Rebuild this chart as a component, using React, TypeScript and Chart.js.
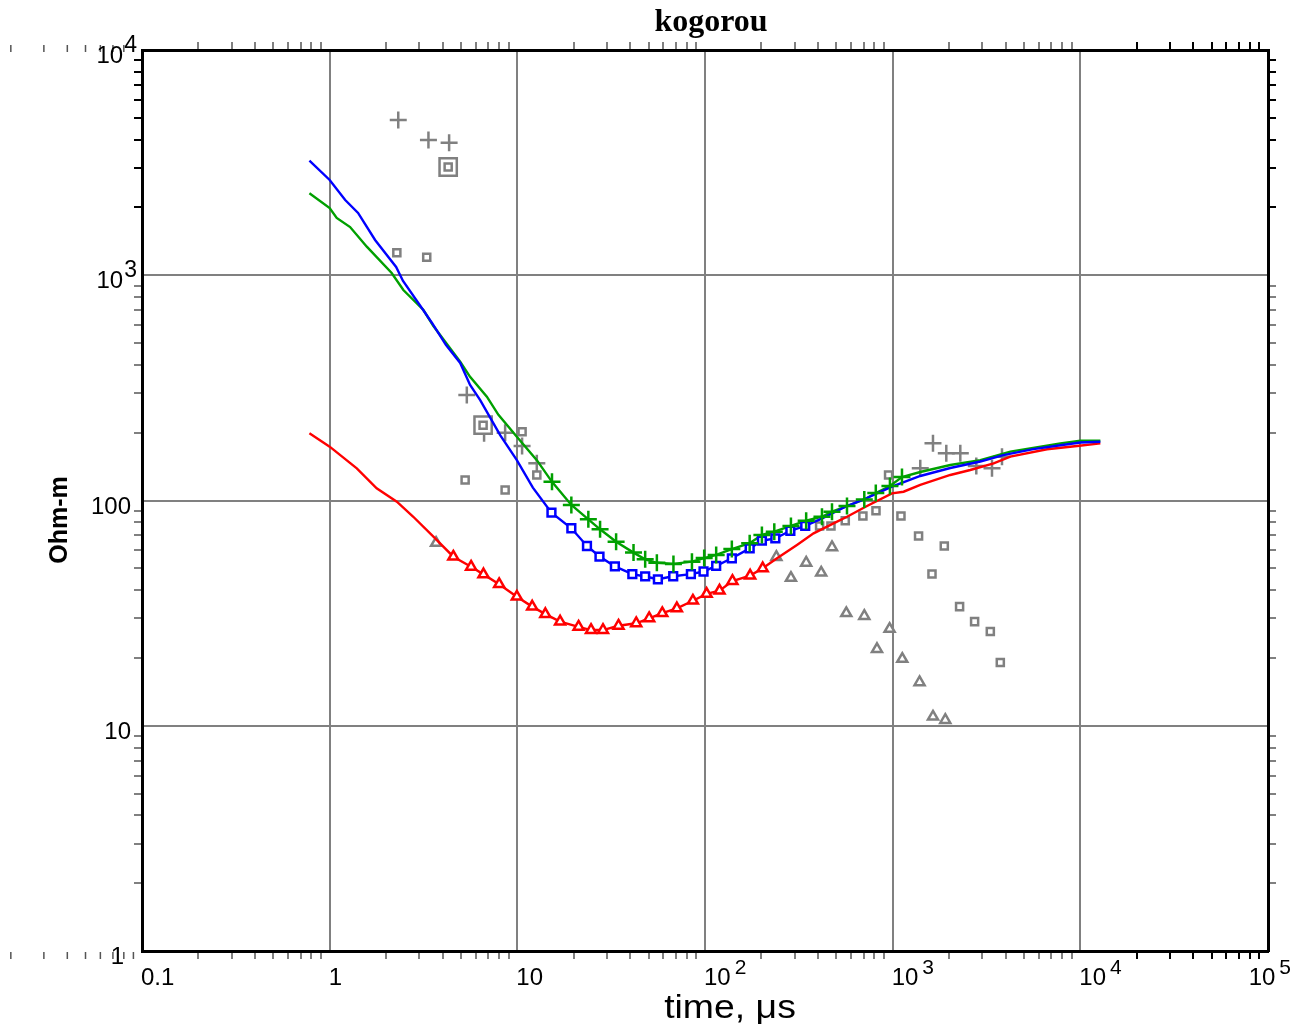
import React, { useEffect, useRef } from "react";
import { Chart, registerables } from "chart.js";

Chart.register(...registerables);

type Pt = [number, number];

const chartTitle = "kogorou";
const xAxisTitle = "time, μs";
const yAxisTitle = "Ohm-m";

const xMin = 0.1;
const xMax = 100000;
const yMin = 1;
const yMax = 10000;

const xTickValues = [0.1, 1, 10, 100, 1000, 10000, 100000];
const xTickBase = ["0.1", "1", "10", "10", "10", "10", "10"];
const xTickExp = ["", "", "", "2", "3", "4", "5"];
const yTickValues = [1, 10, 100, 1000, 10000];
const yTickBase = ["1", "10", "100", "10", "10"];
const yTickExp = ["", "", "", "3", "4"];
const strayTickValues = [0.02, 0.03, 0.04, 0.05, 0.06, 0.07, 0.08, 0.09];

// Blue model curve and blue squares
const blueLineHead: Pt[] = [
  [0.78, 3226], [1.0, 2648], [1.21, 2158], [1.417, 1890], [1.746, 1434], [2.26, 1088],
  [2.46, 943], [3.15, 701], [3.51, 614], [4.17, 490], [4.96, 408], [5.6, 326],
  [6.34, 279], [8.1, 195], [9.94, 151], [12.1, 114],
];
const blueSquares: Pt[] = [
  [15.2, 88.3], [19.4, 75.3], [23.5, 62.8], [27.4, 56.4], [33.1, 51.0], [41.0, 47.1],
  [48.0, 46.0], [56.1, 44.7], [67.7, 46.1], [84.1, 47.1], [98.2, 48.4], [114.7, 51.3],
  [139, 55.4], [173, 61.3], [201, 66.3], [237, 67.9], [285, 73.4], [342, 77.1],
];
const blueLineTail: Pt[] = [
  [416, 82.8], [571, 94.5], [730, 102.6], [991, 115.2], [1403, 128.5], [2028, 139.4],
  [2931, 149], [3887, 159], [5616, 169], [7823, 176], [10000, 181], [12786, 182.4],
];

// Green model curve and green crosses
const greenLineHead: Pt[] = [
  [0.78, 2311], [1.0, 1989], [1.09, 1796], [1.285, 1637], [1.577, 1339], [2.14, 1023],
  [2.47, 860], [3.16, 701], [3.57, 595], [4.96, 413], [5.6, 354], [6.88, 289],
  [7.93, 240], [9.94, 192], [12.7, 151],
];
const greenCrosses: Pt[] = [
  [15.3, 121], [19.4, 95.5], [23.9, 82.5], [27.6, 74.5], [33.6, 65.6], [41.6, 58.7],
  [48.0, 54.8], [55.4, 52.9], [67.9, 52.3], [85.2, 53.5], [99, 55.5], [114.7, 57.3],
  [139, 60.9], [173, 64.6], [201, 70.3], [234, 72.7], [287, 77.1], [346, 81.3],
  [420, 84.7], [475, 89.2], [571, 94.5], [706, 101], [813, 108], [967, 116], [1121, 127],
];
const greenLineTail: Pt[] = [
  [1403, 133.8], [2028, 143.8], [2931, 151], [4236, 164.7], [7823, 179.4],
  [10000, 184.3], [12786, 184.3],
];

// Red model curve and red triangles
const redLineHead: Pt[] = [
  [0.78, 198.7], [1.0, 173.4], [1.395, 139], [1.78, 113.3], [2.28, 98.8], [2.79, 84.7], [3.57, 69.1],
];
const redTriangles: Pt[] = [
  [4.56, 56.3], [5.67, 50.8], [6.6, 47.0], [8.0, 42.5], [9.94, 37.4], [12.0, 33.8],
  [14.1, 31.3], [16.9, 29.0], [21.2, 27.5], [24.7, 26.6], [28.6, 26.6], [34.6, 27.8],
  [43.0, 28.5], [50.4, 30.0], [59.2, 31.6], [70.8, 33.2], [86.2, 35.9], [102, 38.5],
  [119.5, 39.8], [140, 43.9], [174, 46.4], [203, 50.0],
];
const redLineTail: Pt[] = [
  [242, 55.4], [309, 63.5], [379, 71.5], [484, 79.2], [571, 84.7], [730, 94.5],
  [991, 107.6], [1143, 109.4], [1403, 117.2], [2028, 129.8], [2592, 136.6], [3451, 146.3],
  [4236, 156.5], [6645, 168.8], [9603, 174.6], [12786, 179.4],
];

// Gray (other) data
const grayCrosses: Pt[] = [
  [2.32, 4889], [3.36, 3985], [4.33, 3877], [5.38, 294], [6.65, 199], [8.61, 200],
  [10.6, 174.6], [12.7, 146.3], [1403, 139], [1640, 179.4], [1931, 162], [2293, 162],
  [2790, 142.3], [3383, 139], [3824, 156.5],
];
const graySquares: Pt[] = [
  [2.28, 1259], [3.29, 1201], [5.27, 123.3], [8.61, 111.3], [10.6, 202], [12.7, 129.8],
  [408, 77.1], [469, 77.1], [559, 81.3], [694, 85.3], [815, 90.1], [951, 129.8],
  [1107, 85.3], [1374, 69.6], [1620, 47.2], [1884, 62.8], [2273, 33.8], [2733, 29.0],
  [3314, 26.2], [3746, 19.1],
];
const grayBigSquares: Pt[] = [[4.28, 3024], [6.57, 216]];
const grayTriangles: Pt[] = [
  [3.69, 64.8], [240, 56.1], [287, 45.3], [346, 52.9], [416, 47.8], [475, 62.0],
  [566, 31.6], [706, 30.7], [825, 21.9], [963, 26.9], [1125, 19.8], [1391, 15.6],
  [1640, 10.97], [1907, 10.6],
];

const BLUE = "#0000ff";
const GREEN = "#00a000";
const RED = "#ff0000";
const GRAY = "#808080";

const toXY = (arr: Pt[]) => arr.map(([x, y]) => ({ x, y }));

function isDecade(v: number) {
  const l = Math.log10(v);
  return Math.abs(l - Math.round(l)) < 1e-6;
}

function buildLogTicks(min: number, max: number) {
  const out: number[] = [];
  const e0 = Math.round(Math.log10(min));
  const e1 = Math.round(Math.log10(max));
  for (let e = e0; e < e1; e++) {
    for (let m = 1; m < 10; m++) out.push(parseFloat((m * Math.pow(10, e)).toPrecision(6)));
  }
  out.push(max);
  return out;
}

function axisOpts(position: string, min: number, max: number, blackAbove: number, onArea: boolean) {
  return {
    type: "logarithmic",
    position,
    min,
    max,
    display: true,
    afterBuildTicks: (scale: any) => {
      scale.ticks = buildLogTicks(min, max).map((v) => ({ value: v }));
    },
    ticks: { display: false },
    grid: {
      display: true,
      drawOnChartArea: onArea,
      drawTicks: true,
      tickLength: 8,
      lineWidth: 2,
      tickWidth: 2,
      color: (c: any) => {
        const v = c.tick ? c.tick.value : null;
        return onArea && v != null && isDecade(v) && v > min * 1.001 && v < max / 1.001
          ? GRAY
          : "rgba(0,0,0,0)";
      },
      tickColor: (c: any) => {
        const v = c.tick ? c.tick.value : null;
        if (v == null || isDecade(v)) return "rgba(0,0,0,0)";
        return v > blackAbove ? "#000000" : GRAY;
      },
    },
    border: { display: true, color: "#000000", width: 3 },
    title: { display: false },
  };
}

function lineSet(label: string, data: Pt[], color: string) {
  return {
    label,
    data: toXY(data),
    borderColor: color,
    backgroundColor: color,
    borderWidth: 2.4,
    pointRadius: 0,
    fill: false,
    tension: 0,
    showLine: true,
    xAxisID: "x",
    yAxisID: "y",
  };
}

function markerSet(label: string, data: Pt[], color: string, style: string, radius: number, bw = 2.5) {
  return {
    label,
    data: toXY(data),
    showLine: false,
    pointStyle: style,
    pointRadius: radius,
    pointBorderWidth: bw,
    pointBorderColor: color,
    pointBackgroundColor: "#ffffff",
    borderColor: color,
    backgroundColor: "#ffffff",
    xAxisID: "x",
    yAxisID: "y",
  };
}

const textPlugin = {
  id: "customTexts",
  afterDraw(chart: any) {
    const ctx = chart.ctx as CanvasRenderingContext2D;
    const xs = chart.scales.x;
    const ys = chart.scales.y;
    ctx.save();
    ctx.fillStyle = "#000000";

    // stray minor ticks left of the plot
    ctx.strokeStyle = "#555555";
    ctx.lineWidth = 1.5;
    strayTickValues.forEach((v) => {
      const px = xs.getPixelForValue(v);
      ctx.beginPath();
      ctx.moveTo(px, 45);
      ctx.lineTo(px, 52);
      ctx.moveTo(px, 952);
      ctx.lineTo(px, 959);
      ctx.stroke();
    });

    // title
    ctx.font = 'bold 32px "Liberation Serif", "Times New Roman", serif';
    ctx.textAlign = "center";
    ctx.textBaseline = "alphabetic";
    ctx.fillText(chartTitle, 711, 31);

    const baseFont = '24px "Liberation Sans", Arial, sans-serif';
    const expFontX = '21px "Liberation Sans", Arial, sans-serif';
    const expFontY = '23px "Liberation Sans", Arial, sans-serif';

    // x tick labels
    ctx.textAlign = "left";
    xTickValues.forEach((v, i) => {
      const px = xs.getPixelForValue(v);
      const base = xTickBase[i];
      const exp = xTickExp[i];
      ctx.font = baseFont;
      const bw = ctx.measureText(base).width;
      ctx.font = expFontX;
      const ew = exp ? ctx.measureText(exp).width + 4 : 0;
      let x0 = px - 1;
      if (x0 + bw + ew > 1291) x0 = 1291 - bw - ew;
      const yb = 985;
      ctx.font = baseFont;
      ctx.fillText(base, x0, yb);
      if (exp) {
        ctx.font = expFontX;
        ctx.fillText(exp, x0 + bw + 4, yb - 11);
      }
    });

    // y tick labels
    yTickValues.forEach((v, i) => {
      const py = ys.getPixelForValue(v);
      const base = yTickBase[i];
      const exp = yTickExp[i];
      const yb = py + 13;
      ctx.textAlign = "right";
      if (exp) {
        ctx.font = expFontY;
        const ew = ctx.measureText(exp).width;
        ctx.fillText(exp, 137, yb - 11);
        ctx.font = baseFont;
        ctx.fillText(base, 137 - ew - 1, yb);
      } else {
        ctx.font = baseFont;
        const xr = base.length === 1 ? 124 : 131;
        ctx.fillText(base, xr, yb);
      }
    });

    // x axis title (slightly widened)
    ctx.save();
    ctx.translate(730, 1018);
    ctx.scale(1.1, 1);
    ctx.font = '34px "Liberation Sans", Arial, sans-serif';
    ctx.textAlign = "center";
    ctx.fillText(xAxisTitle, 0, 0);
    ctx.restore();

    // y axis title
    ctx.translate(67, 520);
    ctx.rotate(-Math.PI / 2);
    ctx.font = 'bold 25px "Liberation Sans", Arial, sans-serif';
    ctx.textAlign = "center";
    ctx.textBaseline = "alphabetic";
    ctx.fillText(yAxisTitle, 0, 0);

    ctx.restore();
  },
};

export default function App() {
  const ref = useRef<HTMLCanvasElement>(null);

  useEffect(() => {
    const canvas = ref.current;
    if (!canvas) return;
    const datasets: any[] = [
      markerSet("green data", greenCrosses, GREEN, "cross", 8.5),
      markerSet("blue data", blueSquares, BLUE, "rect", 5.5),
      markerSet("red data", redTriangles, RED, "triangle", 5.8),
      lineSet("blue model", [...blueLineHead, ...blueSquares, ...blueLineTail], BLUE),
      lineSet("green model", [...greenLineHead, ...greenCrosses, ...greenLineTail], GREEN),
      lineSet("red model", [...redLineHead, ...redTriangles, ...redLineTail], RED),
      markerSet("gray inner squares", grayBigSquares, GRAY, "rect", 5),
      markerSet("gray big squares", grayBigSquares, GRAY, "rect", 12.2),
      markerSet("gray squares", graySquares, GRAY, "rect", 5),
      markerSet("gray crosses", grayCrosses, GRAY, "cross", 8.5),
      markerSet("gray triangles", grayTriangles, GRAY, "triangle", 5.8),
    ];
    const chart = new Chart(canvas, {
      type: "line",
      data: { datasets },
      options: {
        animation: false,
        responsive: false,
        maintainAspectRatio: false,
        devicePixelRatio: 1,
        events: [],
        layout: { padding: { left: 134, right: 30, top: 42, bottom: 73 } },
        plugins: { legend: { display: false }, tooltip: { enabled: false }, title: { display: false } },
        scales: {
          x: axisOpts("bottom", xMin, xMax, 10000, true),
          xTop: axisOpts("top", xMin, xMax, 10000, false),
          y: axisOpts("left", yMin, yMax, 1000, true),
          yRight: axisOpts("right", yMin, yMax, 1000, false),
        },
      } as any,
      plugins: [textPlugin],
    } as any);
    return () => chart.destroy();
  }, []);

  return (
    <div style={{ position: "absolute", left: 0, top: 0, width: 1306, height: 1032, background: "#ffffff" }}>
      <canvas ref={ref} width={1306} height={1032} style={{ display: "block", width: 1306, height: 1032 }} />
    </div>
  );
}
